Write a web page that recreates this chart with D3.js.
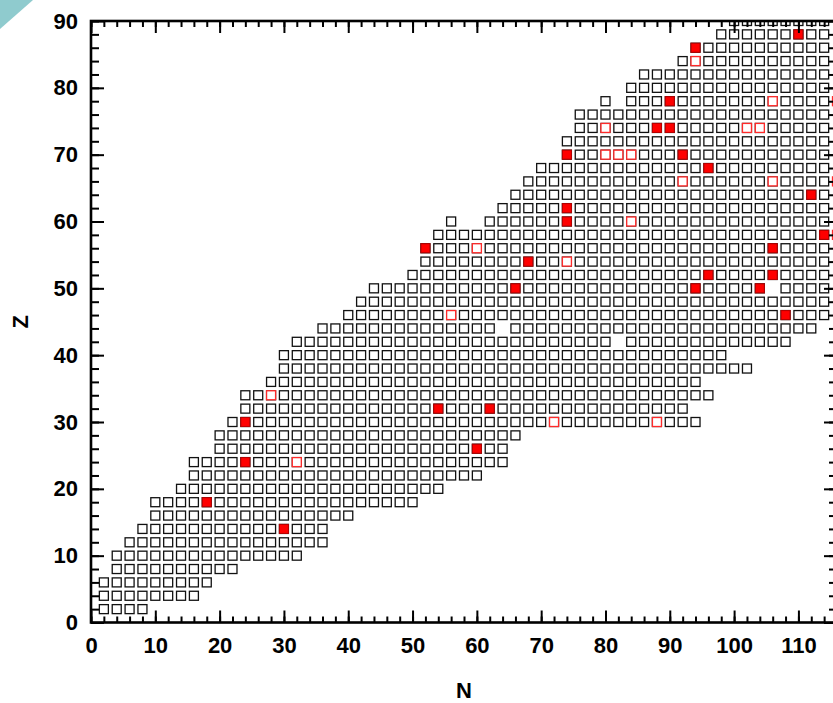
<!DOCTYPE html>
<html>
<head>
<meta charset="utf-8">
<script src="https://cdn.jsdelivr.net/npm/d3@7"></script>
<style>
  html, body { margin: 0; padding: 0; background: #fff; }
  svg { display: block; }
  text { font-family: "Liberation Sans", Arial, sans-serif; font-weight: bold; }
</style>
</head>
<body>
<svg id="chart" width="833" height="703"></svg>
<script>
// Even-even nuclei: each row Z lists the first and last neutron number N
const zRows  = [2, 4, 6, 8, 10, 12, 14, 16, 18, 20, 22, 24, 26, 28, 30, 32, 34, 36, 38, 40, 42, 44,
                46, 48, 50, 52, 54, 56, 58, 60, 62, 64, 66, 68, 70, 72, 74, 76, 78, 80, 82, 84, 86, 88, 90];
const nFirst = [2, 2, 2, 4, 4, 6, 8, 10, 10, 14, 16, 16, 20, 20, 22, 24, 24, 28, 30, 30, 32, 36,
                40, 42, 44, 50, 52, 52, 54, 56, 64, 66, 68, 70, 74, 74, 76, 76, 80, 84, 86, 92, 94, 98, 100];
const nLast  = [8, 16, 18, 22, 32, 36, 36, 40, 50, 54, 60, 64, 64, 66, 94, 92, 96, 94, 102, 98, 108, 112,
                114, 114, 114, 114, 114, 114, 114, 114, 114, 114, 114, 114, 114, 114, 114, 114, 114, 114, 114, 114, 114, 114, 114];

// Missing nuclei inside a row
const gapZ = [42, 44, 50, 60, 60, 78];
const gapN = [82, 64, 106, 58, 60, 82];

// Highlighted nuclei: solid red
const solidZ = [14, 18, 24, 26, 30, 32, 32, 46, 50, 50, 50, 52, 52, 54, 56, 56, 58, 60, 62, 64, 68, 70, 70, 74, 74, 78, 86, 88];
const solidN = [30, 18, 24, 60, 24, 54, 62, 108, 66, 94, 104, 96, 106, 68, 52, 106, 114, 74, 74, 112, 96, 74, 92, 88, 90, 90, 94, 110];

// Highlighted nuclei: open red
const openZ = [24, 30, 30, 34, 46, 54, 56, 58, 60, 66, 66, 66, 70, 70, 70, 74, 74, 74, 78, 78, 84];
const openN = [32, 72, 88, 28, 56, 74, 60, 116, 84, 92, 106, 116, 80, 82, 84, 80, 102, 104, 106, 116, 94];

// Axis ticks
const xMajor = [0, 10, 20, 30, 40, 50, 60, 70, 80, 90, 100, 110];
const yMajor = [0, 10, 20, 30, 40, 50, 60, 70, 80, 90];

(function () {
  const svg = d3.select("#chart");
  const W = 833, H = 703;
  const pL = 91, pR = 837, pT = 21, pB = 622.5;

  const x = d3.scaleLinear().domain([0, 116]).range([pL, pR]);
  const y = d3.scaleLinear().domain([0, 90]).range([pB, pT]);

  svg.append("rect").attr("width", W).attr("height", H).attr("fill", "#fff");

  // corner decoration
  svg.append("polygon").attr("points", "0,0 33,0 0,29").attr("fill", "#8fcbce");

  svg.append("clipPath").attr("id", "plotClip")
    .append("rect").attr("x", pL).attr("y", pT)
    .attr("width", pR - pL).attr("height", pB - pT);

  // build the nuclide list
  const gapKey = new Set(gapZ.map((z, i) => z + ":" + gapN[i]));
  const nuclei = [];
  zRows.forEach((z, i) => {
    for (let n = nFirst[i]; n <= nLast[i]; n += 2) {
      if (!gapKey.has(z + ":" + n)) nuclei.push({ z, n });
    }
  });
  const solid = solidZ.map((z, i) => ({ z, n: solidN[i] }));
  const open = openZ.map((z, i) => ({ z, n: openN[i] }));

  const size = 9;
  const plot = svg.append("g").attr("clip-path", "url(#plotClip)");

  plot.selectAll("rect.nuc").data(nuclei).join("rect")
    .attr("class", "nuc")
    .attr("x", d => x(d.n) - size / 2).attr("y", d => y(d.z) - size / 2)
    .attr("width", size).attr("height", size)
    .attr("fill", "#fff").attr("stroke", "#111").attr("stroke-width", 1.3);

  plot.selectAll("rect.open").data(open).join("rect")
    .attr("class", "open")
    .attr("x", d => x(d.n) - size / 2).attr("y", d => y(d.z) - size / 2)
    .attr("width", size).attr("height", size)
    .attr("fill", "#fff").attr("stroke", "#ff2a2a").attr("stroke-width", 1.3);

  plot.selectAll("rect.solid").data(solid).join("rect")
    .attr("class", "solid")
    .attr("x", d => x(d.n) - size / 2).attr("y", d => y(d.z) - size / 2)
    .attr("width", size).attr("height", size)
    .attr("fill", "#ff0000").attr("stroke", "#b80000").attr("stroke-width", 1.1);

  // axes with inward ticks
  const xMinor = d3.range(0, 117, 2);
  const yMinor = d3.range(0, 91, 2);
  const fontSize = 22;

  function styleAxis(g) {
    g.select(".domain").remove();
    g.selectAll(".tick line").attr("stroke", "#000").attr("stroke-width", 2);
    g.selectAll("text").attr("font-size", fontSize).attr("fill", "#000")
      .style("font-family", "'Liberation Sans', Arial, sans-serif").style("font-weight", "bold");
  }

  // bottom
  svg.append("g").attr("transform", `translate(0,${pB})`)
    .call(d3.axisBottom(x).tickValues(xMinor).tickSizeInner(-6).tickSizeOuter(0).tickFormat(""))
    .call(styleAxis);
  svg.append("g").attr("transform", `translate(0,${pB})`)
    .call(d3.axisBottom(x).tickValues(xMajor).tickSizeInner(-12).tickSizeOuter(0).tickPadding(15).tickFormat(d3.format("d")))
    .call(styleAxis);
  // top
  svg.append("g").attr("transform", `translate(0,${pT})`)
    .call(d3.axisTop(x).tickValues(xMinor).tickSizeInner(-6).tickSizeOuter(0).tickFormat(""))
    .call(styleAxis);
  svg.append("g").attr("transform", `translate(0,${pT})`)
    .call(d3.axisTop(x).tickValues(xMajor).tickSizeInner(-12).tickSizeOuter(0).tickFormat(""))
    .call(styleAxis);
  // left
  svg.append("g").attr("transform", `translate(${pL},0)`)
    .call(d3.axisLeft(y).tickValues(yMinor).tickSizeInner(-8).tickSizeOuter(0).tickFormat(""))
    .call(styleAxis);
  svg.append("g").attr("transform", `translate(${pL},0)`)
    .call(d3.axisLeft(y).tickValues(yMajor).tickSizeInner(-13).tickSizeOuter(0).tickPadding(13).tickFormat(d3.format("d")))
    .call(styleAxis);
  // right
  svg.append("g").attr("transform", `translate(${pR},0)`)
    .call(d3.axisRight(y).tickValues(yMinor).tickSizeInner(-8).tickSizeOuter(0).tickFormat(""))
    .call(styleAxis);
  svg.append("g").attr("transform", `translate(${pR},0)`)
    .call(d3.axisRight(y).tickValues(yMajor).tickSizeInner(-13).tickSizeOuter(0).tickFormat(""))
    .call(styleAxis);

  // frame
  svg.append("rect").attr("x", pL).attr("y", pT)
    .attr("width", pR - pL).attr("height", pB - pT)
    .attr("fill", "none").attr("stroke", "#000").attr("stroke-width", 2.6);

  // axis titles
  svg.append("text").attr("x", (pL + pR) / 2).attr("y", 698)
    .attr("text-anchor", "middle").attr("font-size", fontSize).text("N");
  svg.append("text").attr("transform", `translate(28,${(pT + pB) / 2}) rotate(-90)`)
    .attr("text-anchor", "middle").attr("font-size", fontSize).text("Z");
})();
</script>
</body>
</html>
